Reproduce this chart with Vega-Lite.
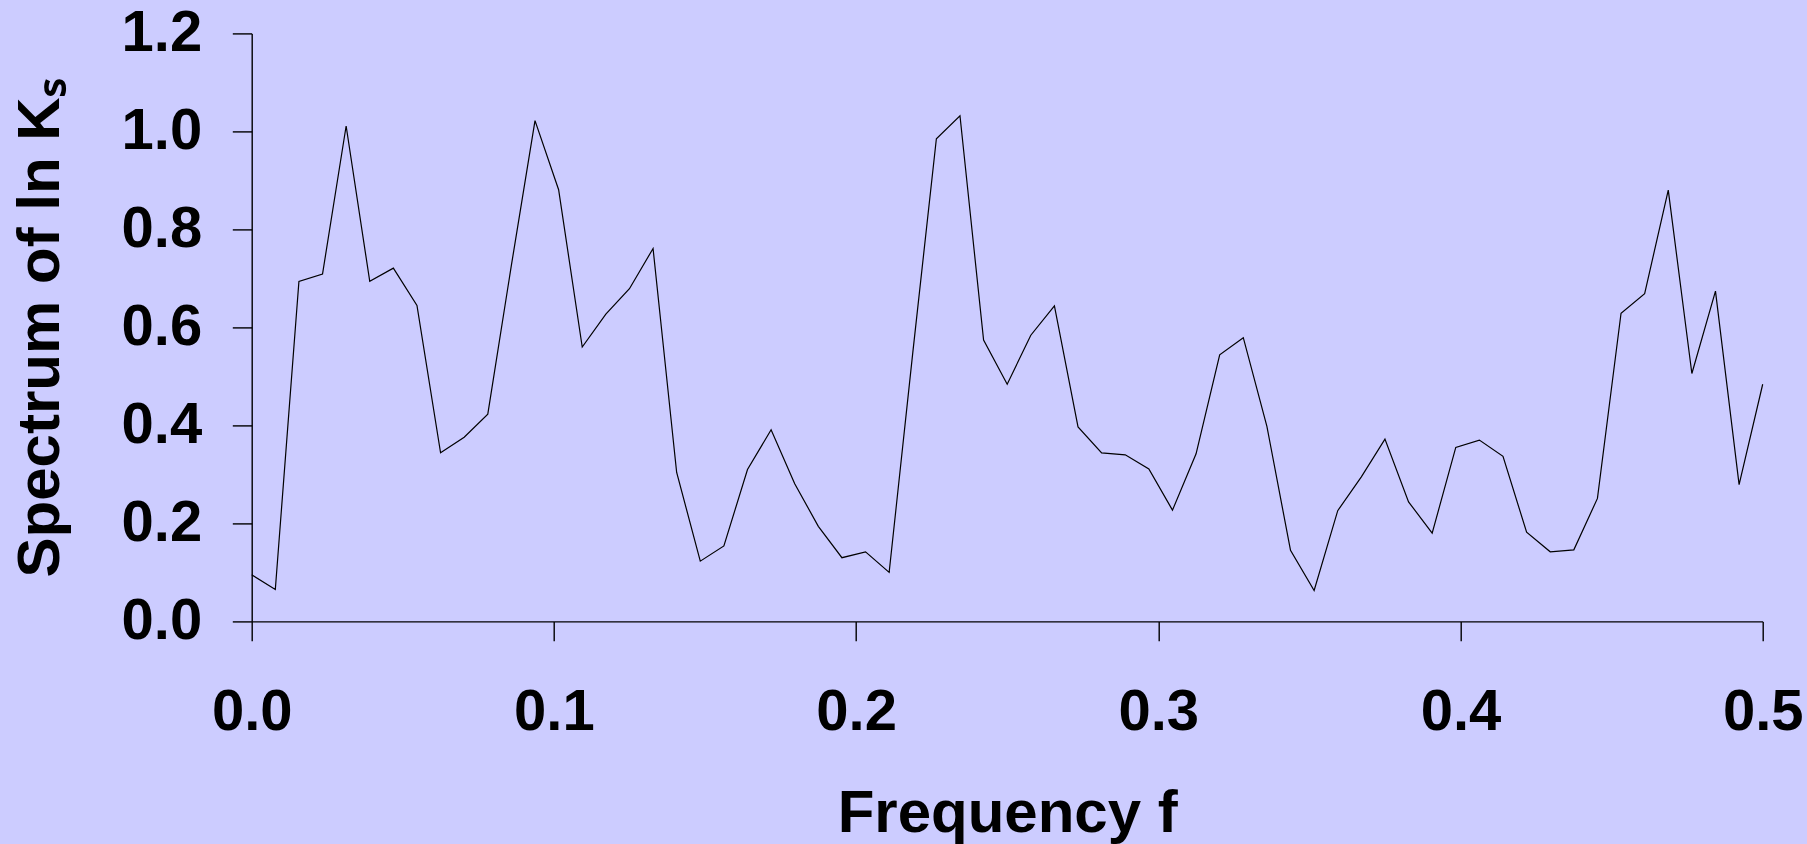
{
  "$schema": "https://vega.github.io/schema/vega-lite/v6.json",
  "width": 1511,
  "height": 588,
  "autosize": {"type": "none"},
  "padding": {"left": 251.7, "top": 33.4, "right": 44.3, "bottom": 222.6},
  "background": "#ccccff",
  "config": {
    "view": {"stroke": null},
    "axis": {
      "grid": false,
      "domainColor": "#000000",
      "domainWidth": 1.4,
      "tickColor": "#000000",
      "tickWidth": 1.4,
      "tickSize": 19.4,
      "labelFont": "Liberation Sans",
      "labelFontSize": 58,
      "labelFontWeight": "bold",
      "labelColor": "#000000",
      "labelFlush": false,
      "labelOverlap": false,
      "labelBound": false,
      "titleFont": "Liberation Sans",
      "titleFontSize": 60,
      "titleFontWeight": "bold",
      "titleColor": "#000000"
    }
  },
  "data": {
    "values": [
      {"f": 0, "s": 0.095},
      {"f": 0.0078125, "s": 0.065},
      {"f": 0.015625, "s": 0.694},
      {"f": 0.0234375, "s": 0.709},
      {"f": 0.03125, "s": 1.011},
      {"f": 0.0390625, "s": 0.694},
      {"f": 0.046875, "s": 0.721},
      {"f": 0.0546875, "s": 0.645},
      {"f": 0.0625, "s": 0.344},
      {"f": 0.0703125, "s": 0.376},
      {"f": 0.078125, "s": 0.423},
      {"f": 0.0859375, "s": 0.727},
      {"f": 0.09375, "s": 1.022},
      {"f": 0.1015625, "s": 0.881},
      {"f": 0.109375, "s": 0.56},
      {"f": 0.1171875, "s": 0.627},
      {"f": 0.125, "s": 0.679},
      {"f": 0.1328125, "s": 0.761},
      {"f": 0.140625, "s": 0.304},
      {"f": 0.1484375, "s": 0.123},
      {"f": 0.15625, "s": 0.154},
      {"f": 0.1640625, "s": 0.31},
      {"f": 0.171875, "s": 0.391},
      {"f": 0.1796875, "s": 0.281},
      {"f": 0.1875, "s": 0.194},
      {"f": 0.1953125, "s": 0.13},
      {"f": 0.203125, "s": 0.142},
      {"f": 0.2109375, "s": 0.1},
      {"f": 0.21875, "s": 0.548},
      {"f": 0.2265625, "s": 0.985},
      {"f": 0.234375, "s": 1.032},
      {"f": 0.2421875, "s": 0.574},
      {"f": 0.25, "s": 0.484},
      {"f": 0.2578125, "s": 0.584},
      {"f": 0.265625, "s": 0.644},
      {"f": 0.2734375, "s": 0.397},
      {"f": 0.28125, "s": 0.344},
      {"f": 0.2890625, "s": 0.34},
      {"f": 0.296875, "s": 0.311},
      {"f": 0.3046875, "s": 0.227},
      {"f": 0.3125, "s": 0.342},
      {"f": 0.3203125, "s": 0.544},
      {"f": 0.328125, "s": 0.579},
      {"f": 0.3359375, "s": 0.398},
      {"f": 0.34375, "s": 0.145},
      {"f": 0.3515625, "s": 0.063},
      {"f": 0.359375, "s": 0.226},
      {"f": 0.3671875, "s": 0.295},
      {"f": 0.375, "s": 0.372},
      {"f": 0.3828125, "s": 0.244},
      {"f": 0.390625, "s": 0.18},
      {"f": 0.3984375, "s": 0.355},
      {"f": 0.40625, "s": 0.37},
      {"f": 0.4140625, "s": 0.337},
      {"f": 0.421875, "s": 0.182},
      {"f": 0.4296875, "s": 0.142},
      {"f": 0.4375, "s": 0.146},
      {"f": 0.4453125, "s": 0.251},
      {"f": 0.453125, "s": 0.629},
      {"f": 0.4609375, "s": 0.669},
      {"f": 0.46875, "s": 0.88},
      {"f": 0.4765625, "s": 0.506},
      {"f": 0.484375, "s": 0.674},
      {"f": 0.4921875, "s": 0.279},
      {"f": 0.5, "s": 0.484}
    ]
  },
  "mark": {"type": "line", "color": "#000000", "strokeWidth": 1.2, "clip": false},
  "encoding": {
    "x": {
      "field": "f",
      "type": "quantitative",
      "scale": {"domain": [0, 0.5], "nice": false, "zero": false},
      "axis": {
        "title": "Frequency f",
        "values": [0, 0.1, 0.2, 0.3, 0.4, 0.5],
        "format": ".1f",
        "labelPadding": 43,
        "titlePadding": 43
      }
    },
    "y": {
      "field": "s",
      "type": "quantitative",
      "scale": {"domain": [0, 1.2], "nice": false},
      "axis": {
        "title": "Spectrum of ln Kₛ",
        "values": [0, 0.2, 0.4, 0.6, 0.8, 1.0, 1.2],
        "format": ".1f",
        "labelPadding": 30.6,
        "titlePadding": 50
      }
    }
  }
}
